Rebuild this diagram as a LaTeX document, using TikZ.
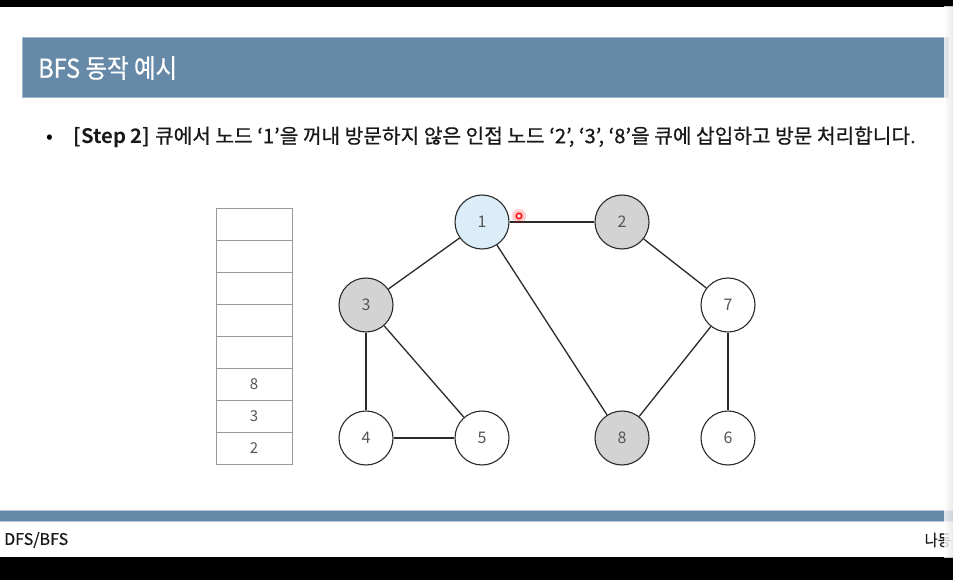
\documentclass[tikz,border=0pt]{standalone}
\usepackage{fontspec}
\usepackage{graphicx}
\setmainfont{Noto Sans CJK KR}
\newfontfamily\krfont{Noto Sans CJK KR}
\newfontfamily\krmed[FakeBold=0.6]{Noto Sans CJK KR}
\newfontfamily\krbold{Noto Sans CJK KR Bold}
\definecolor{barblue}{HTML}{6689A8}
\definecolor{nodeblue}{HTML}{DAEDF8}
\definecolor{nodegray}{HTML}{D3D3D3}
\definecolor{labelgray}{HTML}{555555}
\definecolor{edgegray}{HTML}{2A2A2A}
\tikzset{
  gnode/.style={circle, draw=edgegray, line width=1.1pt, minimum size=54pt, inner sep=0pt,
    font=\krfont\fontsize{16}{18}\selectfont, text=labelgray},
  visited/.style={gnode, fill=nodegray},
  current/.style={gnode, fill=nodeblue},
  fresh/.style={gnode, fill=white},
  edge/.style={draw=edgegray, line width=1.3pt},
  qcell/.style={draw=gray!80, line width=0.8pt, minimum width=76pt, minimum height=32pt,
    inner sep=0pt, font=\krfont\fontsize{15}{16}\selectfont, text=labelgray},
}
\begin{document}
\begin{tikzpicture}[x=1pt,y=-1pt]
\useasboundingbox (0,0) rectangle (953,580);
\fill[white] (0,0) rectangle (953,580);
% top and bottom black bands
\fill[black] (0,0) rectangle (953,7);
\fill[black] (0,557) rectangle (953,580);
% title bar
\fill[barblue] (22,37) rectangle (948,97);
\draw[barblue!60!white, line width=0.6pt] (22,37) rectangle (948,97);
\node[anchor=west, text=white, inner sep=0pt] (title) at (38,68)
  {\resizebox{139pt}{\height}{\krmed\fontsize{26}{30}\selectfont BFS 동작 예시}};
% bullet
\node[anchor=center, inner sep=0pt] (bullet) at (50,139) {\fontsize{20}{22}\selectfont •};
\node[anchor=west, inner sep=0pt, text=black!90] (desc) at (73.5,137)
  {\resizebox{842pt}{\height}{\krmed\fontsize{20}{24}\selectfont{\krbold [Step 2]} 큐에서 노드 ‘1’을 꺼내 방문하지 않은 인접 노드 ‘2’, ‘3’, ‘8’을 큐에 삽입하고 방문 처리합니다.}};
% queue
\foreach \i/\t in {0/,1/,2/,3/,4/,5/8,6/3,7/2}{
  \node[qcell] (q\i) at (254,{224+32*\i}) {\t};
}
% graph nodes
\node[current] (n1) at (482,222) {1};
\node[visited] (n2) at (622,222) {2};
\node[visited] (n3) at (366,305) {3};
\node[fresh]   (n7) at (728,305) {7};
\node[fresh]   (n4) at (366,438) {4};
\node[fresh]   (n5) at (482,438) {5};
\node[visited] (n8) at (622,438) {8};
\node[fresh]   (n6) at (728,438) {6};
% edges
\draw[edge] (n1) -- (n2);
\draw[edge] (n1) -- (n3);
\draw[edge] (n1) -- (n8);
\draw[edge] (n2) -- (n7);
\draw[edge] (n3) -- (n4);
\draw[edge] (n3) -- (n5);
\draw[edge] (n4) -- (n5);
\draw[edge] (n7) -- (n8);
\draw[edge] (n7) -- (n6);
% laser pointer dot
\coordinate (ptr) at (519,216);
\fill[red, opacity=0.15] (ptr) circle (7.5);
\fill[red, opacity=0.2] (ptr) circle (5);
\filldraw[draw=red, fill=white, line width=1.3pt] (ptr) circle (2.6);
% footer bar
\fill[barblue] (0,510) rectangle (953,521);
\draw[barblue!50!white, line width=0.6pt] (0,510) -- (953,510) (0,521) -- (953,521);
\node[anchor=west, inner sep=0pt, text=black!90] (foot) at (4,540)
  {\resizebox{64pt}{\height}{\krmed\fontsize{16}{18}\selectfont DFS/BFS}};
\node[anchor=east, inner sep=0pt, text=black!90] (auth) at (951,540)
  {\resizebox{26pt}{\height}{\krmed\fontsize{16}{18}\selectfont 나동}};
% right page-edge shadow
\shade[left color=white, right color=black!10, opacity=0.8] (944,7) rectangle (953,557);
\end{tikzpicture}
\end{document}
